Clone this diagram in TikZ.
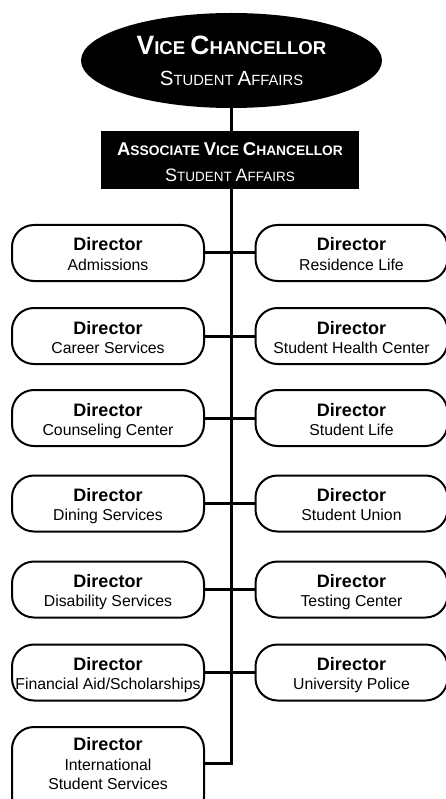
\documentclass[tikz,border=0pt]{standalone}
\usepackage{fontspec}
\setmainfont{Liberation Sans}
\usetikzlibrary{shapes.geometric}
\newcommand\fsz[2]{{\fontsize{#1}{#1}\selectfont #2}}
\tikzset{
  dirbox/.style={draw=black, line width=2pt, rounded corners=22pt, minimum width=192pt, minimum height=56pt, inner sep=0pt, fill=white},
  dtitle/.style={anchor=base, inner sep=0pt, font=\fontsize{18}{18}\selectfont\bfseries},
  dsub/.style={anchor=base, inner sep=0pt, font=\fontsize{15.8}{15.8}\selectfont},
  conn/.style={line width=3pt},
  headshape/.style={fill=black, inner sep=0pt},
  headtxt/.style={anchor=base, inner sep=0pt, text=white},
}
\newcommand\dirnode[4]{%
  \node[dirbox] (#1) at (#2,#3) {};
  \node[dtitle] (#1t) at (#2,#3-2) {Director};
  \node[dsub] (#1s) at (#2,#3+17) {#4};
}
\begin{document}
\begin{tikzpicture}[x=1pt,y=-1pt]
\useasboundingbox (0,0) rectangle (446,799);
% heads
\node[headshape, ellipse, minimum width=301pt, minimum height=95pt] (vc) at (231.5,60.5) {};
\node[headtxt, font=\fontsize{18.6}{18.6}\selectfont\bfseries] (vct) at (231.5,55) {\fsz{26.5}{V}ICE \fsz{26.5}{C}HANCELLOR};
\node[headtxt, font=\fontsize{14.8}{14.8}\selectfont] (vcs) at (231.5,86) {\fsz{20.5}{S}TUDENT \fsz{20.5}{A}FFAIRS};
\node[headshape, rectangle, minimum width=258pt, minimum height=58pt] (avc) at (230,160) {};
% boxes
\dirnode{l1}{108}{253}{Admissions}
\dirnode{r1}{351.5}{253}{Residence Life}
\dirnode{l2}{108}{336}{Career Services}
\dirnode{r2}{351.5}{336}{Student Health Center}
\dirnode{l3}{108}{418}{Counseling Center}
\dirnode{r3}{351.5}{418}{Student Life}
\dirnode{l4}{108}{503.5}{Dining Services}
\dirnode{r4}{351.5}{503.5}{Student Union}
\dirnode{l5}{108}{589.5}{Disability Services}
\dirnode{r5}{351.5}{589.5}{Testing Center}
\dirnode{l6}{108}{672.5}{Financial Aid/Scholarships}
\dirnode{r6}{351.5}{672.5}{University Police}
\node[dirbox, minimum height=92pt] (l7) at (108,773) {};
\node[dtitle] (l7t) at (108,750) {Director};
\node[dsub] (l7a) at (108,770) {International};
\node[dsub] (l7b) at (108,789) {Student Services};
% connectors
\draw[conn] (vc.south) |- ([yshift=10pt]l7.east);
\foreach \i in {1,...,6} { \draw[conn] (l\i.east) -- (r\i.west); }
% associate box drawn over the spine
\node[headshape, rectangle, minimum width=258pt, minimum height=58pt] (avc2) at (avc.center) {};
\node[headtxt, font=\fontsize{13.8}{13.8}\selectfont\bfseries] (avct) at (230,156) {\fsz{18.5}{A}SSOCIATE \fsz{18.5}{V}ICE \fsz{18.5}{C}HANCELLOR};
\node[headtxt, font=\fontsize{13.5}{13.5}\selectfont] (avcs) at (230,182) {\fsz{18}{S}TUDENT \fsz{18}{A}FFAIRS};
\end{tikzpicture}
\end{document}
